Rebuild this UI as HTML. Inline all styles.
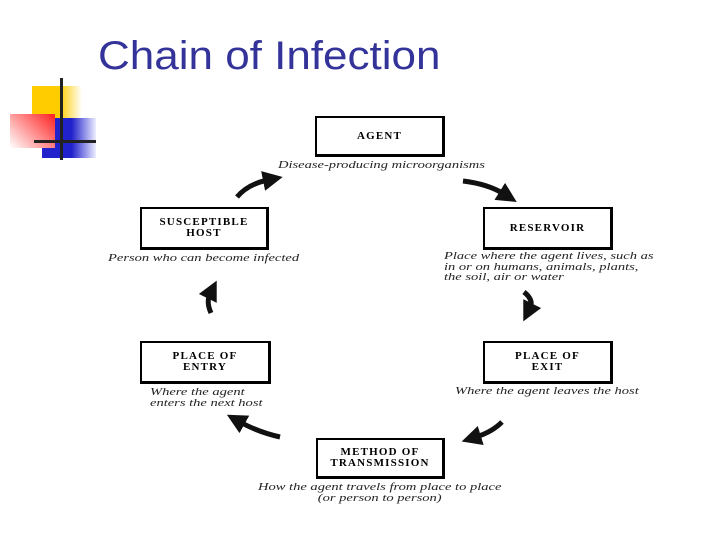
<!DOCTYPE html>
<html><head><style>
body{margin:0;width:720px;height:540px;background:#fff;position:relative;overflow:hidden;font-family:"Liberation Serif",serif}
.t{position:absolute;left:98px;top:34px;font:40px "Liberation Sans",sans-serif;color:#333399;transform:scaleX(1.1);transform-origin:0 0}
.b{position:absolute;border:2px solid #000;border-right-width:3px;border-bottom-width:3px;box-sizing:border-box;display:flex;align-items:center;justify-content:center;text-align:center;font-weight:bold;font-size:11px;line-height:11px;letter-spacing:1.2px}
.c{position:absolute;font-style:italic;font-size:11px;line-height:10.5px;color:#222;white-space:nowrap;transform:scaleX(1.32);transform-origin:0 0}
</style></head><body>
<div class="t">Chain of Infection</div>
<div style="position:absolute;left:32px;top:86px;width:50px;height:34px;background:linear-gradient(90deg,#ffcc00 55%,#fff)"></div>
<div style="position:absolute;left:42px;top:118px;width:54px;height:40px;background:linear-gradient(90deg,#2222cc 55%,#eef)"></div>
<div style="position:absolute;left:10px;top:114px;width:45px;height:34px;background:linear-gradient(45deg,#fff,#ff2020)"></div>
<div style="position:absolute;left:60px;top:78px;width:3px;height:82px;background:#222"></div>
<div style="position:absolute;left:34px;top:140px;width:62px;height:3px;background:#222"></div>

<div class="b" style="left:315px;top:116px;width:130px;height:41px">AGENT</div>
<div class="c" style="left:278px;top:160px">Disease-producing microorganisms</div>
<div class="b" style="left:140px;top:207px;width:129px;height:43px">SUSCEPTIBLE<br>HOST</div>
<div class="c" style="left:108px;top:253px">Person who can become infected</div>
<div class="b" style="left:483px;top:207px;width:130px;height:43px">RESERVOIR</div>
<div class="c" style="left:444px;top:251px">Place where the agent lives, such as<br>in or on humans, animals, plants,<br>the soil, air or water</div>
<div class="b" style="left:140px;top:341px;width:131px;height:43px">PLACE OF<br>ENTRY</div>
<div class="c" style="left:150px;top:387px">Where the agent<br>enters the next host</div>
<div class="b" style="left:483px;top:341px;width:130px;height:43px">PLACE OF<br>EXIT</div>
<div class="c" style="left:455px;top:386px">Where the agent leaves the host</div>
<div class="b" style="left:316px;top:438px;width:129px;height:41px">METHOD OF<br>TRANSMISSION</div>
<div class="c" style="left:258px;top:482px;text-align:center">How the agent travels from place to place<br>(or person to person)</div>

<svg width="720" height="540" style="position:absolute;left:0;top:0" fill="#111" stroke="#111">
<defs><marker id="a" markerWidth="4" markerHeight="4" refX="1" refY="2" orient="auto"><path d="M0,0L4,2L0,4z" stroke="none"/></marker></defs>
<g fill="none" stroke-width="5" marker-end="url(#a)">
<path d="M237,197 Q248,184 268,180"/>
<path d="M463,181 Q488,184 504,194"/>
<path d="M524,292 Q534,300 530,308"/>
<path d="M502,422 Q492,432 476,437"/>
<path d="M280,437 Q258,432 240,422"/>
<path d="M211,313 Q206,302 210,294"/>
</g>
</svg>
</body></html>
